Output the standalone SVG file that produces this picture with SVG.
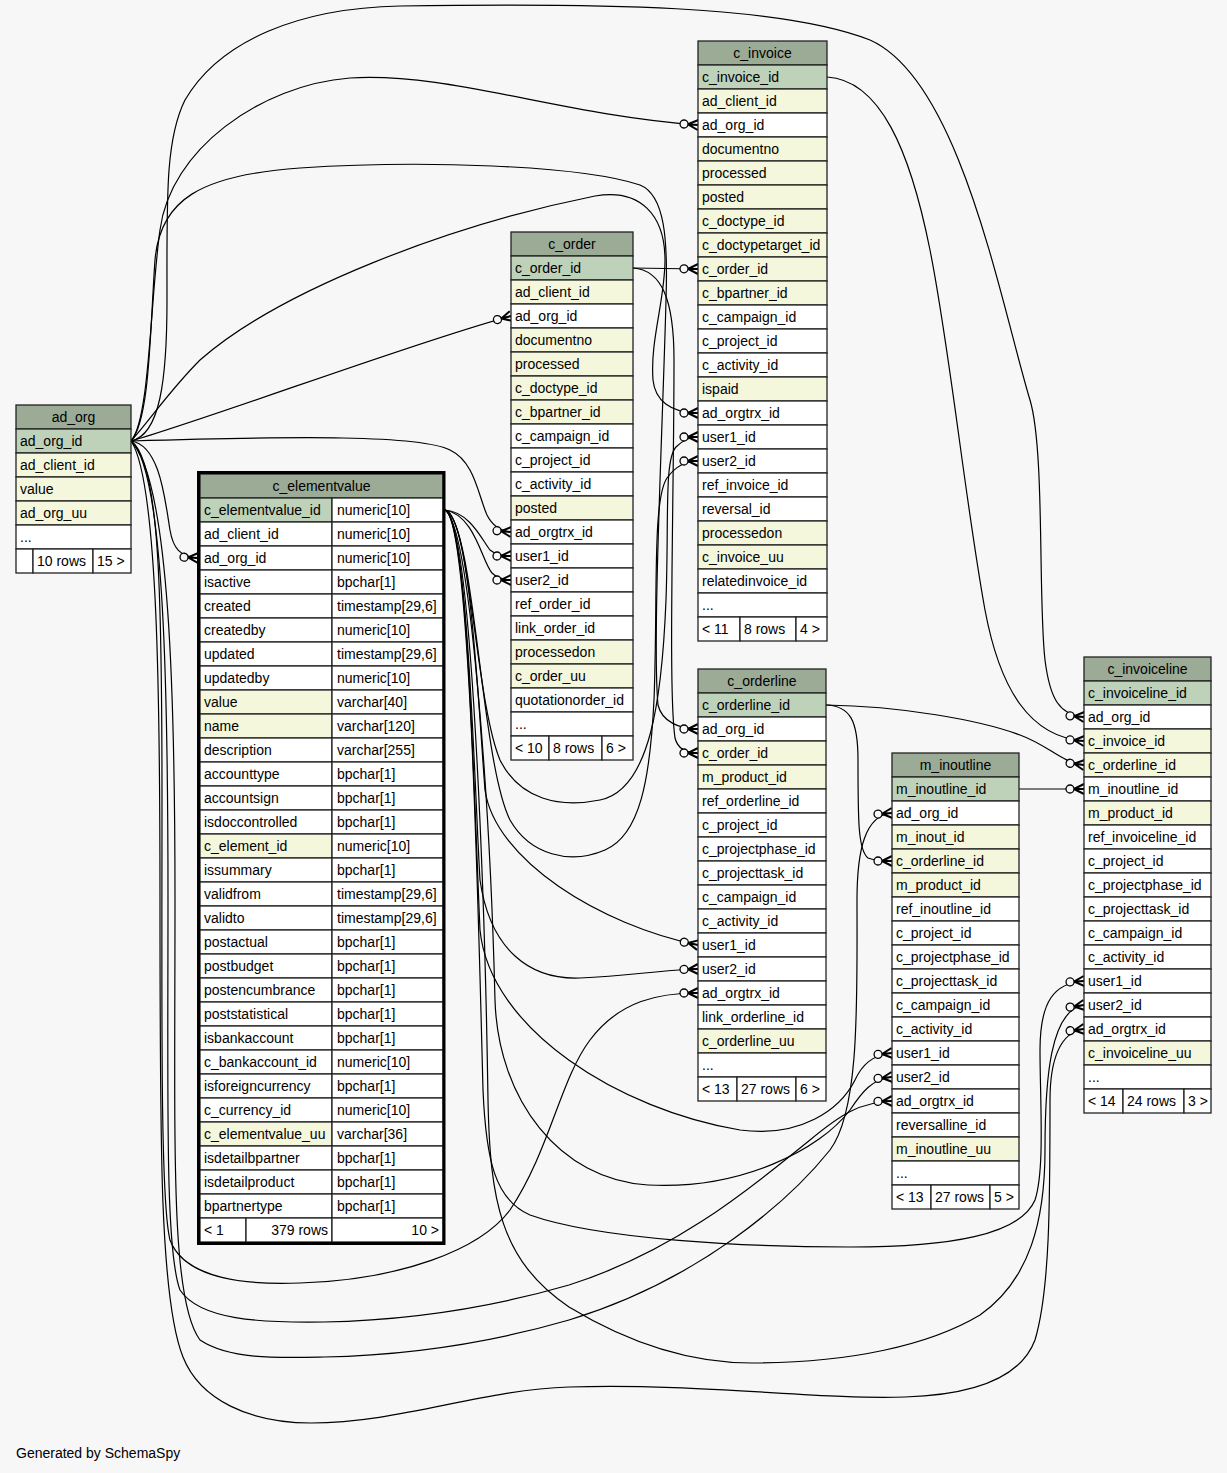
<svg xmlns="http://www.w3.org/2000/svg" width="1227" height="1473" viewBox="0 0 1227 1473">
<defs>
<style>
.c{stroke:#222;stroke-width:1.3}
.h{fill:#9bab96}
.k{fill:#bed1b9}
.y{fill:#f4f7dc}
.w{fill:#ffffff}
text{font-family:"Liberation Sans",Arial,Helvetica,sans-serif;font-size:14px;fill:#000}
.t{text-anchor:middle}
.r{text-anchor:end}
.e{fill:none;stroke:#000;stroke-width:1.2;marker-end:url(#cf)}
</style>
<marker id="cf" markerUnits="userSpaceOnUse" viewBox="-20 -7 21 14" refX="0" refY="0" markerWidth="21" markerHeight="14" orient="auto" overflow="visible">
<path d="M-10,0 L0,-5 M-10,0 L0,0 M-10,0 L0,5" stroke="#000" stroke-width="2" fill="none"/>
<circle cx="-14" cy="0" r="4" fill="#f7f7f7" stroke="#000" stroke-width="1.3"/>
</marker>
</defs>
<rect x="0" y="0" width="1227" height="1473" fill="#f7f7f7"/>

<g id="connectors">
<path class="e" d="M131,441 C 220,415 420,340 511,316"/>
<path class="e" d="M131,441 C 150,420 150,300 160,230 C 170,150 260,85 350,78 C 450,72 560,115 698,125"/>
<path class="e" d="M131,441 C 160,435 167,380 167,300 C 167,200 165,140 185,100 C 220,40 300,8 400,6 C 600,3 780,5 870,40 C 960,80 1000,300 1030,400 C 1045,450 1038,600 1045,660 C 1050,700 1060,715 1084,717"/>
<path class="e" d="M131,441 C 150,420 150,330 155,260 C 160,200 200,175 300,168 C 420,160 580,165 640,185 C 665,195 668,240 666,300 C 663,420 652,640 658,705 C 662,722 680,729 698,729"/>
<path class="e" d="M131,441 C 150,420 170,390 200,360 C 280,290 450,225 595,196 C 640,188 665,215 665,260 C 665,300 650,340 653,380 C 655,400 670,413 698,413"/>
<path class="e" d="M131,441 C 300,436 420,435 450,450 C 475,462 478,495 487,515 C 492,525 500,531 511,532"/>
<path class="e" d="M131,441 C 160,445 165,500 170,530 C 173,548 180,557 198,558"/>
<path class="e" d="M131,441 C 160,460 162,600 162,800 C 162,1000 160,1200 170,1240 C 185,1280 250,1285 300,1283 C 400,1280 480,1250 510,1210 C 550,1150 560,1080 590,1040 C 620,1000 660,993 698,993"/>
<path class="e" d="M131,441 C 165,470 168,700 168,900 C 168,1100 165,1250 180,1290 C 200,1320 260,1323 324,1322 C 420,1320 500,1305 569,1285 C 680,1250 760,1180 810,1140 C 840,1115 860,1102 892,1101"/>
<path class="e" d="M131,441 C 170,480 175,700 175,900 C 175,1150 170,1300 200,1340 C 230,1360 280,1358 324,1357 C 420,1355 500,1340 569,1320 C 700,1280 790,1200 830,1150 C 860,1110 857,1000 857,900 C 857,850 865,815 892,813"/>
<path class="e" d="M131,441 C 158,480 160,700 160,900 C 160,1150 160,1300 183,1357 C 200,1400 250,1423 311,1423 C 400,1423 480,1390 569,1387 C 700,1383 820,1400 905,1397 C 970,1395 1020,1380 1035,1340 C 1050,1290 1050,1200 1050,1100 C 1050,1060 1060,1032 1084,1029"/>
<path class="e" d="M445,510 C 470,512 482,540 490,550 C 496,555 503,556 511,556"/>
<path class="e" d="M445,510 C 475,515 482,562 492,573 C 498,579 504,580 511,580"/>
<path class="e" d="M445,510 C 470,515 475,700 500,760 C 520,800 560,808 600,800 C 650,790 662,700 666,600 C 669,520 664,460 676,447 C 683,440 690,437 698,437"/>
<path class="e" d="M445,510 C 475,520 480,760 510,820 C 530,855 570,865 605,850 C 640,835 650,780 654,700 C 658,600 652,500 667,478 C 677,464 688,461 698,461"/>
<path class="e" d="M445,510 C 470,515 478,700 485,790 C 495,860 600,925 698,945"/>
<path class="e" d="M445,510 C 468,520 475,800 480,880 C 490,950 530,980 580,978 C 630,976 660,970 698,969"/>
<path class="e" d="M445,510 C 468,520 474,800 480,930 C 490,1030 620,1110 740,1130 C 800,1138 840,1110 855,1080 C 862,1065 872,1055 892,1053"/>
<path class="e" d="M445,510 C 470,525 490,800 495,1000 C 498,1100 560,1180 648,1185 C 740,1190 820,1150 850,1110 C 862,1092 872,1079 892,1077"/>
<path class="e" d="M445,510 C 470,520 478,900 483,1090 C 486,1160 495,1200 530,1215 C 600,1240 750,1247 850,1247 C 950,1247 1020,1235 1035,1200 C 1045,1170 1040,1100 1040,1050 C 1040,1000 1055,983 1084,981"/>
<path class="e" d="M445,510 C 472,520 485,900 488,1100 C 490,1200 500,1260 569,1307 C 640,1350 700,1363 752,1363 C 850,1363 930,1345 980,1315 C 1030,1280 1045,1220 1045,1150 C 1045,1080 1050,1010 1084,1005"/>
<path class="e" d="M633,268 L698,269"/>
<path class="e" d="M633,268 C 662,270 674,300 674,360 C 674,500 668,690 675,738 C 678,750 688,753 698,753"/>
<path class="e" d="M827,77 C 880,80 910,150 930,250 C 950,350 965,500 985,610 C 1000,690 1030,737 1084,741"/>
<path class="e" d="M826,705 C 900,706 980,720 1020,735 C 1050,746 1060,762 1084,765"/>
<path class="e" d="M826,705 C 850,706 858,720 858,760 C 858,820 858,850 868,858 C 875,861 882,861 892,861"/>
<path class="e" d="M1019,789 L1084,789"/>
</g>

<g id="ad_org">
<rect class="c h" x="16" y="405" width="115" height="24"/><text class="t" x="73.5" y="422">ad_org</text>
<rect class="c k" x="16" y="429" width="115" height="24"/><text x="20" y="446">ad_org_id</text>
<rect class="c y" x="16" y="453" width="115" height="24"/><text x="20" y="470">ad_client_id</text>
<rect class="c y" x="16" y="477" width="115" height="24"/><text x="20" y="494">value</text>
<rect class="c y" x="16" y="501" width="115" height="24"/><text x="20" y="518">ad_org_uu</text>
<rect class="c w" x="16" y="525" width="115" height="24"/><text x="20" y="542">...</text>
<rect class="c w" x="16" y="549" width="17" height="24"/>
<rect class="c w" x="33" y="549" width="60" height="24"/><text x="37" y="566">10 rows</text>
<rect class="c w" x="93" y="549" width="38" height="24"/><text x="97" y="566">15 &gt;</text>
</g>

<g id="c_order">
<rect class="c h" x="511" y="232" width="122" height="24"/><text class="t" x="572" y="249">c_order</text>
<rect class="c k" x="511" y="256" width="122" height="24"/><text x="515" y="273">c_order_id</text>
<rect class="c y" x="511" y="280" width="122" height="24"/><text x="515" y="297">ad_client_id</text>
<rect class="c w" x="511" y="304" width="122" height="24"/><text x="515" y="321">ad_org_id</text>
<rect class="c y" x="511" y="328" width="122" height="24"/><text x="515" y="345">documentno</text>
<rect class="c y" x="511" y="352" width="122" height="24"/><text x="515" y="369">processed</text>
<rect class="c y" x="511" y="376" width="122" height="24"/><text x="515" y="393">c_doctype_id</text>
<rect class="c y" x="511" y="400" width="122" height="24"/><text x="515" y="417">c_bpartner_id</text>
<rect class="c w" x="511" y="424" width="122" height="24"/><text x="515" y="441">c_campaign_id</text>
<rect class="c w" x="511" y="448" width="122" height="24"/><text x="515" y="465">c_project_id</text>
<rect class="c w" x="511" y="472" width="122" height="24"/><text x="515" y="489">c_activity_id</text>
<rect class="c y" x="511" y="496" width="122" height="24"/><text x="515" y="513">posted</text>
<rect class="c w" x="511" y="520" width="122" height="24"/><text x="515" y="537">ad_orgtrx_id</text>
<rect class="c w" x="511" y="544" width="122" height="24"/><text x="515" y="561">user1_id</text>
<rect class="c w" x="511" y="568" width="122" height="24"/><text x="515" y="585">user2_id</text>
<rect class="c w" x="511" y="592" width="122" height="24"/><text x="515" y="609">ref_order_id</text>
<rect class="c w" x="511" y="616" width="122" height="24"/><text x="515" y="633">link_order_id</text>
<rect class="c y" x="511" y="640" width="122" height="24"/><text x="515" y="657">processedon</text>
<rect class="c y" x="511" y="664" width="122" height="24"/><text x="515" y="681">c_order_uu</text>
<rect class="c w" x="511" y="688" width="122" height="24"/><text x="515" y="705">quotationorder_id</text>
<rect class="c w" x="511" y="712" width="122" height="24"/><text x="515" y="729">...</text>
<rect class="c w" x="511" y="736" width="38" height="24"/><text x="515" y="753">&lt; 10</text>
<rect class="c w" x="549" y="736" width="53" height="24"/><text x="553" y="753">8 rows</text>
<rect class="c w" x="602" y="736" width="31" height="24"/><text x="606" y="753">6 &gt;</text>
</g>

<g id="c_invoice">
<rect class="c h" x="698" y="41" width="129" height="24"/><text class="t" x="762.5" y="58">c_invoice</text>
<rect class="c k" x="698" y="65" width="129" height="24"/><text x="702" y="82">c_invoice_id</text>
<rect class="c y" x="698" y="89" width="129" height="24"/><text x="702" y="106">ad_client_id</text>
<rect class="c w" x="698" y="113" width="129" height="24"/><text x="702" y="130">ad_org_id</text>
<rect class="c y" x="698" y="137" width="129" height="24"/><text x="702" y="154">documentno</text>
<rect class="c y" x="698" y="161" width="129" height="24"/><text x="702" y="178">processed</text>
<rect class="c y" x="698" y="185" width="129" height="24"/><text x="702" y="202">posted</text>
<rect class="c y" x="698" y="209" width="129" height="24"/><text x="702" y="226">c_doctype_id</text>
<rect class="c y" x="698" y="233" width="129" height="24"/><text x="702" y="250">c_doctypetarget_id</text>
<rect class="c y" x="698" y="257" width="129" height="24"/><text x="702" y="274">c_order_id</text>
<rect class="c y" x="698" y="281" width="129" height="24"/><text x="702" y="298">c_bpartner_id</text>
<rect class="c w" x="698" y="305" width="129" height="24"/><text x="702" y="322">c_campaign_id</text>
<rect class="c w" x="698" y="329" width="129" height="24"/><text x="702" y="346">c_project_id</text>
<rect class="c w" x="698" y="353" width="129" height="24"/><text x="702" y="370">c_activity_id</text>
<rect class="c y" x="698" y="377" width="129" height="24"/><text x="702" y="394">ispaid</text>
<rect class="c w" x="698" y="401" width="129" height="24"/><text x="702" y="418">ad_orgtrx_id</text>
<rect class="c w" x="698" y="425" width="129" height="24"/><text x="702" y="442">user1_id</text>
<rect class="c w" x="698" y="449" width="129" height="24"/><text x="702" y="466">user2_id</text>
<rect class="c w" x="698" y="473" width="129" height="24"/><text x="702" y="490">ref_invoice_id</text>
<rect class="c w" x="698" y="497" width="129" height="24"/><text x="702" y="514">reversal_id</text>
<rect class="c y" x="698" y="521" width="129" height="24"/><text x="702" y="538">processedon</text>
<rect class="c y" x="698" y="545" width="129" height="24"/><text x="702" y="562">c_invoice_uu</text>
<rect class="c w" x="698" y="569" width="129" height="24"/><text x="702" y="586">relatedinvoice_id</text>
<rect class="c w" x="698" y="593" width="129" height="24"/><text x="702" y="610">...</text>
<rect class="c w" x="698" y="617" width="42" height="24"/><text x="702" y="634">&lt; 11</text>
<rect class="c w" x="740" y="617" width="56" height="24"/><text x="744" y="634">8 rows</text>
<rect class="c w" x="796" y="617" width="31" height="24"/><text x="800" y="634">4 &gt;</text>
</g>

<g id="c_orderline">
<rect class="c h" x="698" y="669" width="128" height="24"/><text class="t" x="762" y="686">c_orderline</text>
<rect class="c k" x="698" y="693" width="128" height="24"/><text x="702" y="710">c_orderline_id</text>
<rect class="c w" x="698" y="717" width="128" height="24"/><text x="702" y="734">ad_org_id</text>
<rect class="c y" x="698" y="741" width="128" height="24"/><text x="702" y="758">c_order_id</text>
<rect class="c y" x="698" y="765" width="128" height="24"/><text x="702" y="782">m_product_id</text>
<rect class="c w" x="698" y="789" width="128" height="24"/><text x="702" y="806">ref_orderline_id</text>
<rect class="c w" x="698" y="813" width="128" height="24"/><text x="702" y="830">c_project_id</text>
<rect class="c w" x="698" y="837" width="128" height="24"/><text x="702" y="854">c_projectphase_id</text>
<rect class="c w" x="698" y="861" width="128" height="24"/><text x="702" y="878">c_projecttask_id</text>
<rect class="c w" x="698" y="885" width="128" height="24"/><text x="702" y="902">c_campaign_id</text>
<rect class="c w" x="698" y="909" width="128" height="24"/><text x="702" y="926">c_activity_id</text>
<rect class="c w" x="698" y="933" width="128" height="24"/><text x="702" y="950">user1_id</text>
<rect class="c w" x="698" y="957" width="128" height="24"/><text x="702" y="974">user2_id</text>
<rect class="c w" x="698" y="981" width="128" height="24"/><text x="702" y="998">ad_orgtrx_id</text>
<rect class="c w" x="698" y="1005" width="128" height="24"/><text x="702" y="1022">link_orderline_id</text>
<rect class="c y" x="698" y="1029" width="128" height="24"/><text x="702" y="1046">c_orderline_uu</text>
<rect class="c w" x="698" y="1053" width="128" height="24"/><text x="702" y="1070">...</text>
<rect class="c w" x="698" y="1077" width="39" height="24"/><text x="702" y="1094">&lt; 13</text>
<rect class="c w" x="737" y="1077" width="59" height="24"/><text x="741" y="1094">27 rows</text>
<rect class="c w" x="796" y="1077" width="30" height="24"/><text x="800" y="1094">6 &gt;</text>
</g>

<g id="m_inoutline">
<rect class="c h" x="892" y="753" width="127" height="24"/><text class="t" x="955.5" y="770">m_inoutline</text>
<rect class="c k" x="892" y="777" width="127" height="24"/><text x="896" y="794">m_inoutline_id</text>
<rect class="c w" x="892" y="801" width="127" height="24"/><text x="896" y="818">ad_org_id</text>
<rect class="c y" x="892" y="825" width="127" height="24"/><text x="896" y="842">m_inout_id</text>
<rect class="c y" x="892" y="849" width="127" height="24"/><text x="896" y="866">c_orderline_id</text>
<rect class="c y" x="892" y="873" width="127" height="24"/><text x="896" y="890">m_product_id</text>
<rect class="c w" x="892" y="897" width="127" height="24"/><text x="896" y="914">ref_inoutline_id</text>
<rect class="c w" x="892" y="921" width="127" height="24"/><text x="896" y="938">c_project_id</text>
<rect class="c w" x="892" y="945" width="127" height="24"/><text x="896" y="962">c_projectphase_id</text>
<rect class="c w" x="892" y="969" width="127" height="24"/><text x="896" y="986">c_projecttask_id</text>
<rect class="c w" x="892" y="993" width="127" height="24"/><text x="896" y="1010">c_campaign_id</text>
<rect class="c w" x="892" y="1017" width="127" height="24"/><text x="896" y="1034">c_activity_id</text>
<rect class="c w" x="892" y="1041" width="127" height="24"/><text x="896" y="1058">user1_id</text>
<rect class="c w" x="892" y="1065" width="127" height="24"/><text x="896" y="1082">user2_id</text>
<rect class="c w" x="892" y="1089" width="127" height="24"/><text x="896" y="1106">ad_orgtrx_id</text>
<rect class="c w" x="892" y="1113" width="127" height="24"/><text x="896" y="1130">reversalline_id</text>
<rect class="c y" x="892" y="1137" width="127" height="24"/><text x="896" y="1154">m_inoutline_uu</text>
<rect class="c w" x="892" y="1161" width="127" height="24"/><text x="896" y="1178">...</text>
<rect class="c w" x="892" y="1185" width="39" height="24"/><text x="896" y="1202">&lt; 13</text>
<rect class="c w" x="931" y="1185" width="59" height="24"/><text x="935" y="1202">27 rows</text>
<rect class="c w" x="990" y="1185" width="29" height="24"/><text x="994" y="1202">5 &gt;</text>
</g>

<g id="c_invoiceline">
<rect class="c h" x="1084" y="657" width="127" height="24"/><text class="t" x="1147.5" y="674">c_invoiceline</text>
<rect class="c k" x="1084" y="681" width="127" height="24"/><text x="1088" y="698">c_invoiceline_id</text>
<rect class="c w" x="1084" y="705" width="127" height="24"/><text x="1088" y="722">ad_org_id</text>
<rect class="c y" x="1084" y="729" width="127" height="24"/><text x="1088" y="746">c_invoice_id</text>
<rect class="c y" x="1084" y="753" width="127" height="24"/><text x="1088" y="770">c_orderline_id</text>
<rect class="c w" x="1084" y="777" width="127" height="24"/><text x="1088" y="794">m_inoutline_id</text>
<rect class="c y" x="1084" y="801" width="127" height="24"/><text x="1088" y="818">m_product_id</text>
<rect class="c w" x="1084" y="825" width="127" height="24"/><text x="1088" y="842">ref_invoiceline_id</text>
<rect class="c w" x="1084" y="849" width="127" height="24"/><text x="1088" y="866">c_project_id</text>
<rect class="c w" x="1084" y="873" width="127" height="24"/><text x="1088" y="890">c_projectphase_id</text>
<rect class="c w" x="1084" y="897" width="127" height="24"/><text x="1088" y="914">c_projecttask_id</text>
<rect class="c w" x="1084" y="921" width="127" height="24"/><text x="1088" y="938">c_campaign_id</text>
<rect class="c w" x="1084" y="945" width="127" height="24"/><text x="1088" y="962">c_activity_id</text>
<rect class="c w" x="1084" y="969" width="127" height="24"/><text x="1088" y="986">user1_id</text>
<rect class="c w" x="1084" y="993" width="127" height="24"/><text x="1088" y="1010">user2_id</text>
<rect class="c w" x="1084" y="1017" width="127" height="24"/><text x="1088" y="1034">ad_orgtrx_id</text>
<rect class="c y" x="1084" y="1041" width="127" height="24"/><text x="1088" y="1058">c_invoiceline_uu</text>
<rect class="c w" x="1084" y="1065" width="127" height="24"/><text x="1088" y="1082">...</text>
<rect class="c w" x="1084" y="1089" width="39" height="24"/><text x="1088" y="1106">&lt; 14</text>
<rect class="c w" x="1123" y="1089" width="61" height="24"/><text x="1127" y="1106">24 rows</text>
<rect class="c w" x="1184" y="1089" width="27" height="24"/><text x="1188" y="1106">3 &gt;</text>
</g>

<g id="c_elementvalue">
<rect class="c h" x="200" y="474" width="243" height="24"/><text class="t" x="321.5" y="491">c_elementvalue</text>
<rect class="c k" x="200" y="498" width="132" height="24"/><rect class="c w" x="332" y="498" width="111" height="24"/><text x="204" y="515">c_elementvalue_id</text><text x="337" y="515">numeric[10]</text>
<rect class="c w" x="200" y="522" width="132" height="24"/><rect class="c w" x="332" y="522" width="111" height="24"/><text x="204" y="539">ad_client_id</text><text x="337" y="539">numeric[10]</text>
<rect class="c w" x="200" y="546" width="132" height="24"/><rect class="c w" x="332" y="546" width="111" height="24"/><text x="204" y="563">ad_org_id</text><text x="337" y="563">numeric[10]</text>
<rect class="c w" x="200" y="570" width="132" height="24"/><rect class="c w" x="332" y="570" width="111" height="24"/><text x="204" y="587">isactive</text><text x="337" y="587">bpchar[1]</text>
<rect class="c w" x="200" y="594" width="132" height="24"/><rect class="c w" x="332" y="594" width="111" height="24"/><text x="204" y="611">created</text><text x="337" y="611">timestamp[29,6]</text>
<rect class="c w" x="200" y="618" width="132" height="24"/><rect class="c w" x="332" y="618" width="111" height="24"/><text x="204" y="635">createdby</text><text x="337" y="635">numeric[10]</text>
<rect class="c w" x="200" y="642" width="132" height="24"/><rect class="c w" x="332" y="642" width="111" height="24"/><text x="204" y="659">updated</text><text x="337" y="659">timestamp[29,6]</text>
<rect class="c w" x="200" y="666" width="132" height="24"/><rect class="c w" x="332" y="666" width="111" height="24"/><text x="204" y="683">updatedby</text><text x="337" y="683">numeric[10]</text>
<rect class="c y" x="200" y="690" width="132" height="24"/><rect class="c w" x="332" y="690" width="111" height="24"/><text x="204" y="707">value</text><text x="337" y="707">varchar[40]</text>
<rect class="c y" x="200" y="714" width="132" height="24"/><rect class="c w" x="332" y="714" width="111" height="24"/><text x="204" y="731">name</text><text x="337" y="731">varchar[120]</text>
<rect class="c w" x="200" y="738" width="132" height="24"/><rect class="c w" x="332" y="738" width="111" height="24"/><text x="204" y="755">description</text><text x="337" y="755">varchar[255]</text>
<rect class="c w" x="200" y="762" width="132" height="24"/><rect class="c w" x="332" y="762" width="111" height="24"/><text x="204" y="779">accounttype</text><text x="337" y="779">bpchar[1]</text>
<rect class="c w" x="200" y="786" width="132" height="24"/><rect class="c w" x="332" y="786" width="111" height="24"/><text x="204" y="803">accountsign</text><text x="337" y="803">bpchar[1]</text>
<rect class="c w" x="200" y="810" width="132" height="24"/><rect class="c w" x="332" y="810" width="111" height="24"/><text x="204" y="827">isdoccontrolled</text><text x="337" y="827">bpchar[1]</text>
<rect class="c y" x="200" y="834" width="132" height="24"/><rect class="c w" x="332" y="834" width="111" height="24"/><text x="204" y="851">c_element_id</text><text x="337" y="851">numeric[10]</text>
<rect class="c w" x="200" y="858" width="132" height="24"/><rect class="c w" x="332" y="858" width="111" height="24"/><text x="204" y="875">issummary</text><text x="337" y="875">bpchar[1]</text>
<rect class="c w" x="200" y="882" width="132" height="24"/><rect class="c w" x="332" y="882" width="111" height="24"/><text x="204" y="899">validfrom</text><text x="337" y="899">timestamp[29,6]</text>
<rect class="c w" x="200" y="906" width="132" height="24"/><rect class="c w" x="332" y="906" width="111" height="24"/><text x="204" y="923">validto</text><text x="337" y="923">timestamp[29,6]</text>
<rect class="c w" x="200" y="930" width="132" height="24"/><rect class="c w" x="332" y="930" width="111" height="24"/><text x="204" y="947">postactual</text><text x="337" y="947">bpchar[1]</text>
<rect class="c w" x="200" y="954" width="132" height="24"/><rect class="c w" x="332" y="954" width="111" height="24"/><text x="204" y="971">postbudget</text><text x="337" y="971">bpchar[1]</text>
<rect class="c w" x="200" y="978" width="132" height="24"/><rect class="c w" x="332" y="978" width="111" height="24"/><text x="204" y="995">postencumbrance</text><text x="337" y="995">bpchar[1]</text>
<rect class="c w" x="200" y="1002" width="132" height="24"/><rect class="c w" x="332" y="1002" width="111" height="24"/><text x="204" y="1019">poststatistical</text><text x="337" y="1019">bpchar[1]</text>
<rect class="c w" x="200" y="1026" width="132" height="24"/><rect class="c w" x="332" y="1026" width="111" height="24"/><text x="204" y="1043">isbankaccount</text><text x="337" y="1043">bpchar[1]</text>
<rect class="c w" x="200" y="1050" width="132" height="24"/><rect class="c w" x="332" y="1050" width="111" height="24"/><text x="204" y="1067">c_bankaccount_id</text><text x="337" y="1067">numeric[10]</text>
<rect class="c w" x="200" y="1074" width="132" height="24"/><rect class="c w" x="332" y="1074" width="111" height="24"/><text x="204" y="1091">isforeigncurrency</text><text x="337" y="1091">bpchar[1]</text>
<rect class="c w" x="200" y="1098" width="132" height="24"/><rect class="c w" x="332" y="1098" width="111" height="24"/><text x="204" y="1115">c_currency_id</text><text x="337" y="1115">numeric[10]</text>
<rect class="c y" x="200" y="1122" width="132" height="24"/><rect class="c w" x="332" y="1122" width="111" height="24"/><text x="204" y="1139">c_elementvalue_uu</text><text x="337" y="1139">varchar[36]</text>
<rect class="c w" x="200" y="1146" width="132" height="24"/><rect class="c w" x="332" y="1146" width="111" height="24"/><text x="204" y="1163">isdetailbpartner</text><text x="337" y="1163">bpchar[1]</text>
<rect class="c w" x="200" y="1170" width="132" height="24"/><rect class="c w" x="332" y="1170" width="111" height="24"/><text x="204" y="1187">isdetailproduct</text><text x="337" y="1187">bpchar[1]</text>
<rect class="c w" x="200" y="1194" width="132" height="24"/><rect class="c w" x="332" y="1194" width="111" height="24"/><text x="204" y="1211">bpartnertype</text><text x="337" y="1211">bpchar[1]</text>
<rect class="c w" x="200" y="1218" width="46" height="24"/><text x="204" y="1235">&lt; 1</text>
<rect class="c w" x="246" y="1218" width="86" height="24"/><text class="r" x="328" y="1235">379 rows</text>
<rect class="c w" x="332" y="1218" width="111" height="24"/><text class="r" x="439" y="1235">10 &gt;</text>
<rect x="198.5" y="472.5" width="245.5" height="771" fill="none" stroke="#000" stroke-width="3"/>
</g>

<text x="16" y="1458">Generated by SchemaSpy</text>
</svg>
